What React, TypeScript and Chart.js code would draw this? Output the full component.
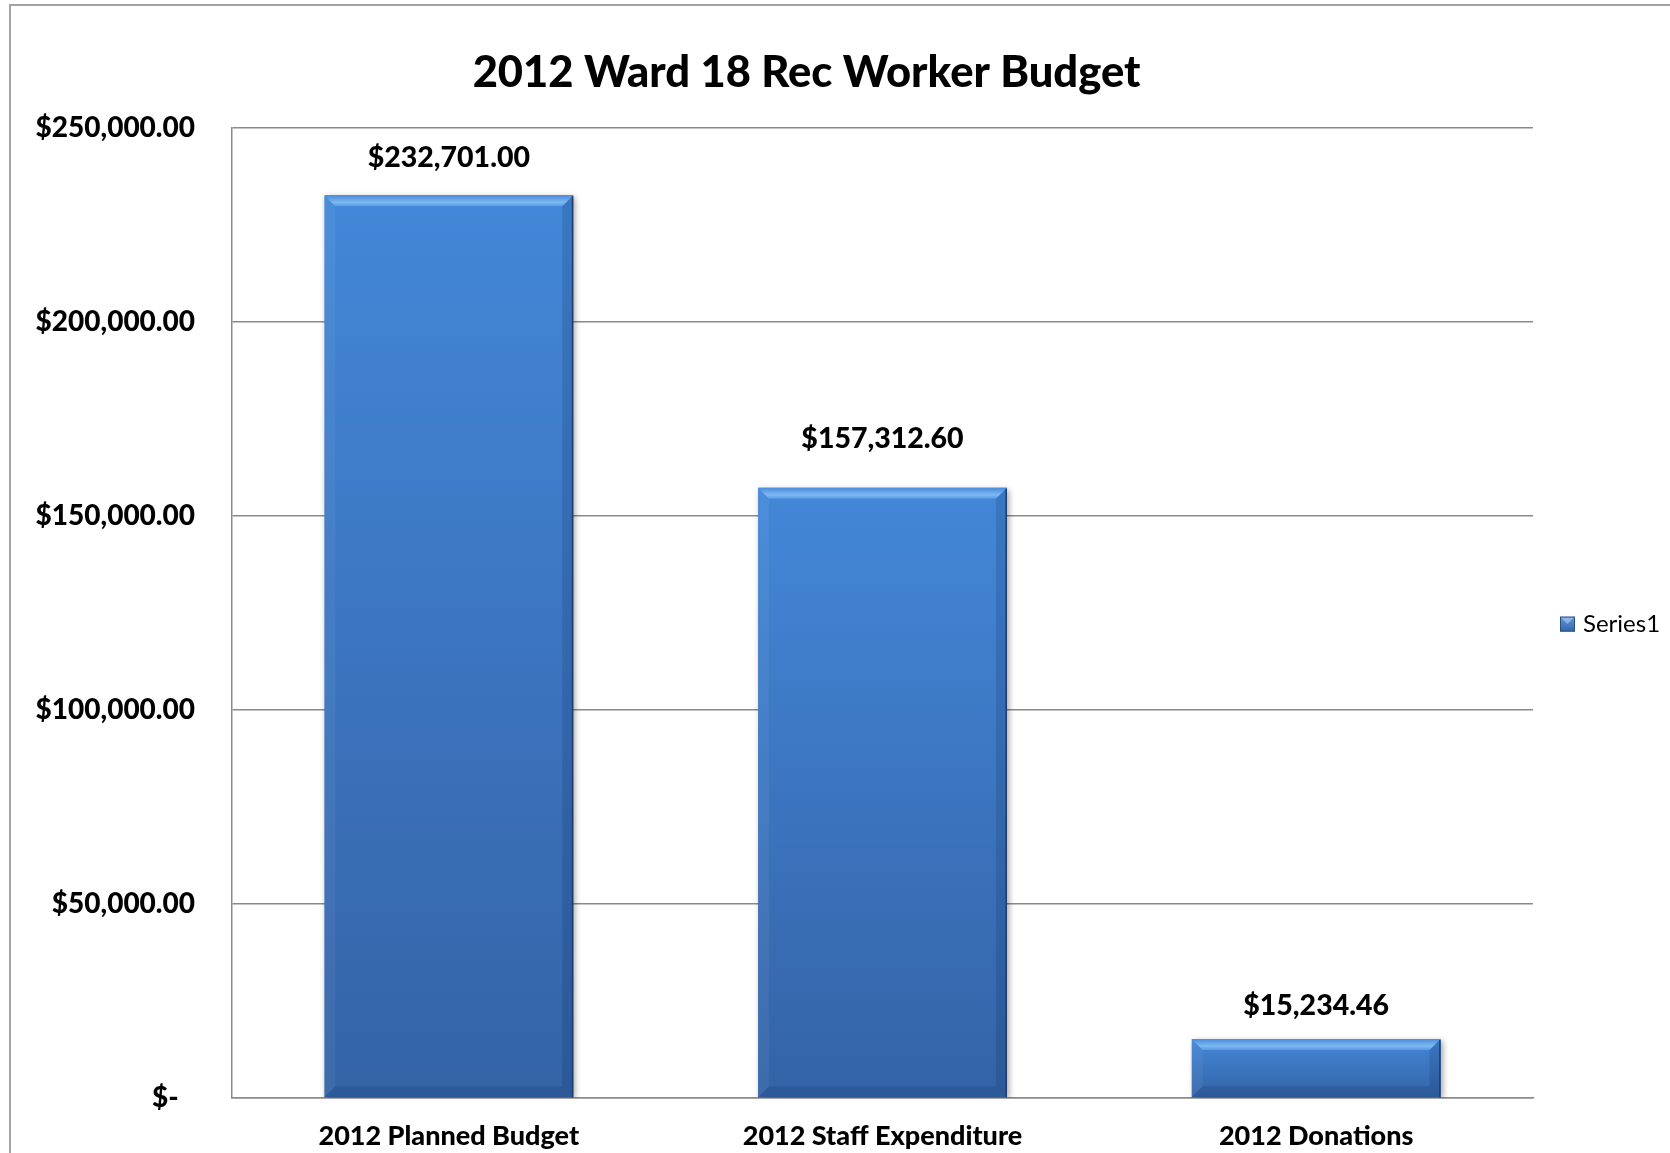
import React, { useEffect, useRef } from "react";
import { Chart, registerables } from "chart.js";

Chart.register(...registerables);

// ---- data ----
const chartTitle = "2012 Ward 18 Rec Worker Budget";
const categories = ["2012 Planned Budget", "2012 Staff Expenditure", "2012 Donations"];
const seriesName = "Series1";
const seriesValues = [232701.0, 157312.6, 15234.46];
const yMin = 0;
const yMax = 250000;
const yStep = 50000;

const FONT = "Lato, 'Open Sans', 'DejaVu Sans', sans-serif";
const HEAVY = "900";

const money = (v: number) =>
  "$" + v.toLocaleString("en-US", { minimumFractionDigits: 2, maximumFractionDigits: 2 });
const tickMoney = (v: number) => (v === 0 ? "$-\u2007" : money(v));

const framePlugin = {
  id: "frame",
  beforeDraw(chart: any) {
    const { ctx, width, height } = chart;
    ctx.save();
    ctx.fillStyle = "#ffffff";
    ctx.fillRect(0, 0, width, height);
    ctx.strokeStyle = "#a3a3a3";
    ctx.lineWidth = 2;
    ctx.strokeRect(10, 5, width + 20, height + 20);
    ctx.restore();
  },
};

// centre the title over the span the original used (between the plot's left offset and its right edge)
const titleSpanPlugin = {
  id: "titleSpan",
  afterLayout(chart: any) {
    const t = chart.titleBlock;
    if (!t) return;
    t.left = 80;
    t.right = chart.chartArea.right;
    t.width = t.right - t.left;
  },
};

const shadowPlugin = {
  id: "barShadow",
  beforeDatasetsDraw(chart: any) {
    const ctx = chart.ctx;
    ctx.save();
    ctx.shadowColor = "rgba(0,0,0,0.35)";
    ctx.shadowBlur = 6;
    ctx.shadowOffsetX = 2;
    ctx.shadowOffsetY = 2;
  },
  afterDatasetsDraw(chart: any) {
    chart.ctx.restore();
  },
};

const bevelPlugin = {
  id: "bevel",
  afterDatasetsDraw(chart: any, _args: any, opts: any) {
    const ctx = chart.ctx;
    const meta = chart.getDatasetMeta(0);
    const offsets: number[] = opts.labelOffsets || [];
    meta.data.forEach((el: any, i: number) => {
      const { x, y, base, width } = el.getProps(["x", "y", "base", "width"], true);
      const L = x - width / 2;
      const R = x + width / 2;
      const T = y;
      const B = base;
      const b = Math.min(11, (B - T) / 2);
      ctx.save();
      // top bevel
      const g = ctx.createLinearGradient(0, T, 0, T + b);
      g.addColorStop(0, "#4a8bdc");
      g.addColorStop(0.65, "#7db9f3");
      g.addColorStop(1, "#5a9ae6");
      ctx.fillStyle = g;
      ctx.beginPath();
      ctx.moveTo(L, T);
      ctx.lineTo(R, T);
      ctx.lineTo(R - b, T + b);
      ctx.lineTo(L + b, T + b);
      ctx.closePath();
      ctx.fill();
      // left bevel
      ctx.fillStyle = "rgba(255,255,255,0.05)";
      ctx.beginPath();
      ctx.moveTo(L, T);
      ctx.lineTo(L + b, T + b);
      ctx.lineTo(L + b, B - b);
      ctx.lineTo(L, B);
      ctx.closePath();
      ctx.fill();
      // right bevel
      ctx.fillStyle = "rgba(10,30,70,0.15)";
      ctx.beginPath();
      ctx.moveTo(R, T);
      ctx.lineTo(R - b, T + b);
      ctx.lineTo(R - b, B - b);
      ctx.lineTo(R, B);
      ctx.closePath();
      ctx.fill();
      // bottom bevel
      ctx.fillStyle = "rgba(10,30,70,0.14)";
      ctx.beginPath();
      ctx.moveTo(L, B);
      ctx.lineTo(L + b, B - b);
      ctx.lineTo(R - b, B - b);
      ctx.lineTo(R, B);
      ctx.closePath();
      ctx.fill();
      // dark right edge
      ctx.strokeStyle = "#1e3d6c";
      ctx.lineWidth = 1.5;
      ctx.beginPath();
      ctx.moveTo(R - 0.75, T + 1);
      ctx.lineTo(R - 0.75, B);
      ctx.stroke();
      // data label
      ctx.fillStyle = "#000";
      ctx.font = `${HEAVY} 28.5px ${FONT}`;
      ctx.textAlign = "center";
      ctx.textBaseline = "middle";
      const v = chart.data.datasets[0].data[i];
      ctx.fillText(money(v), x, T - (offsets[i] ?? 38));
      ctx.restore();
    });
  },
};

const legendPlugin = {
  id: "sideLegend",
  afterDraw(chart: any) {
    const ctx = chart.ctx;
    const area = chart.chartArea;
    const cy = (area.top + area.bottom) / 2 + 11;
    const sx = 1560;
    const s = 15;
    ctx.save();
    const g = ctx.createLinearGradient(0, cy - s / 2, 0, cy + s / 2);
    g.addColorStop(0, "#5a9ae6");
    g.addColorStop(1, "#3464a8");
    ctx.fillStyle = g;
    ctx.fillRect(sx, cy - s / 2, s, s);
    ctx.fillStyle = "rgba(255,255,255,0.35)";
    ctx.beginPath();
    ctx.moveTo(sx, cy - s / 2);
    ctx.lineTo(sx + s, cy - s / 2);
    ctx.lineTo(sx + s / 2, cy);
    ctx.closePath();
    ctx.fill();
    ctx.strokeStyle = "#2a4f85";
    ctx.lineWidth = 1;
    ctx.strokeRect(sx + 0.5, cy - s / 2 + 0.5, s - 1, s - 1);
    ctx.fillStyle = "#000";
    ctx.font = `24px ${FONT}`;
    ctx.textAlign = "left";
    ctx.textBaseline = "middle";
    ctx.fillText(chart.data.datasets[0].label, sx + 23, cy);
    ctx.restore();
  },
};

export default function App() {
  const canvasRef = useRef<HTMLCanvasElement | null>(null);

  useEffect(() => {
    const canvas = canvasRef.current;
    if (!canvas) return;
    const chart = new Chart(canvas, {
      type: "bar",
      data: {
        labels: categories,
        datasets: [
          {
            label: seriesName,
            data: seriesValues,
            barPercentage: 0.574,
            categoryPercentage: 1,
            borderWidth: 0,
            backgroundColor: (c: any) => {
              const ch = c.chart;
              const ys = ch.scales && ch.scales.y;
              if (!ys || c.raw === undefined) return "#3d78c4";
              const top = ys.getPixelForValue(c.raw);
              const bot = ys.getPixelForValue(0);
              if (!isFinite(top) || !isFinite(bot) || top === bot) return "#3d78c4";
              const g = ch.ctx.createLinearGradient(0, top, 0, bot);
              g.addColorStop(0, "#4387d8");
              g.addColorStop(1, "#3463a6");
              return g;
            },
          },
        ],
      },
      options: {
        responsive: false,
        devicePixelRatio: 1,
        animation: false,
        layout: { padding: { left: 0, right: 137, top: 0, bottom: 3 } },
        plugins: {
          legend: { display: false },
          tooltip: { enabled: false },
          title: {
            display: true,
            text: chartTitle,
            color: "#000",
            font: { family: FONT, size: 43.5, weight: HEAVY, lineHeight: 1.2 },
            padding: { top: 47, bottom: 29 },
          },
          bevel: { labelOffsets: [37, 49, 33] },
        } as any,
        scales: {
          x: {
            afterFit: (s: any) => {
              s.height = 52;
            },
            grid: { display: false, drawTicks: false },
            border: { display: true, color: "#8a8a8a", width: 1.5 },
            ticks: {
              color: "#000",
              font: { family: FONT, size: 27, weight: HEAVY },
              padding: 22,
              maxRotation: 0,
            },
          },
          y: {
            min: yMin,
            max: yMax,
            afterFit: (s: any) => {
              s.width = 232;
            },
            grid: { color: "#8a8a8a", lineWidth: 1.5, drawTicks: false },
            border: { display: true, color: "#8a8a8a", width: 1.5 },
            ticks: {
              stepSize: yStep,
              color: "#000",
              font: { family: FONT, size: 28, weight: HEAVY },
              padding: 37,
              callback: (v: any) => tickMoney(Number(v)),
            },
          },
        },
      },
      plugins: [framePlugin, titleSpanPlugin, shadowPlugin, bevelPlugin, legendPlugin],
    });
    return () => chart.destroy();
  }, []);

  return (
    <div style={{ position: "absolute", left: 0, top: 0, width: 1670, height: 1153, overflow: "hidden" }}>
      <canvas ref={canvasRef} width={1670} height={1153} style={{ display: "block" }} />
    </div>
  );
}
